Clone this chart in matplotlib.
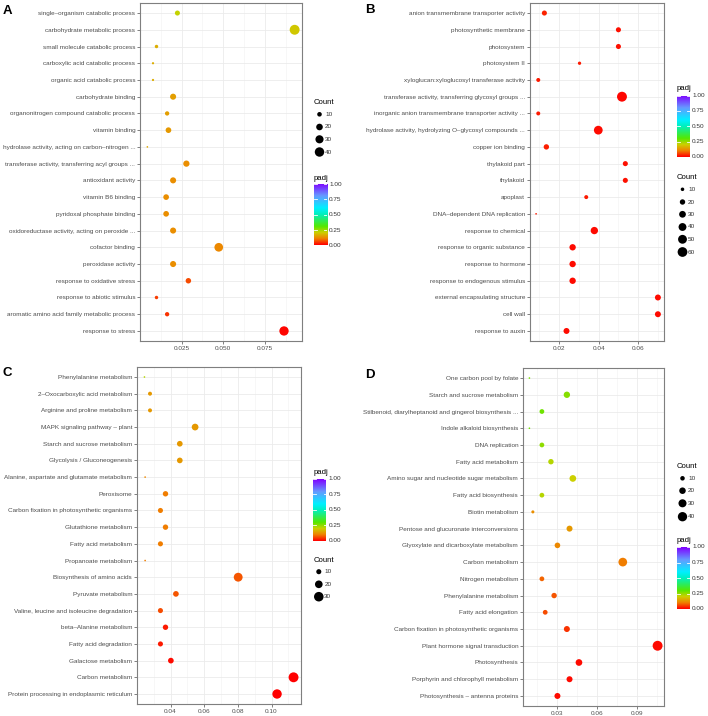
import numpy as np
import matplotlib
matplotlib.use('Agg')
import matplotlib.pyplot as plt
from matplotlib.colors import LinearSegmentedColormap
from matplotlib.ticker import FixedLocator, MultipleLocator

plt.rcParams['font.family'] = ['Liberation Sans', 'DejaVu Sans']

# figure size in pixels (dpi 100)
W, H = 708, 716

# ---- panel A (GO) ----
a_terms = [
    "single–organism catabolic process",
    "carbohydrate metabolic process",
    "small molecule catabolic process",
    "carboxylic acid catabolic process",
    "organic acid catabolic process",
    "carbohydrate binding",
    "organonitrogen compound catabolic process",
    "vitamin binding",
    "hydrolase activity, acting on carbon–nitrogen ...",
    "transferase activity, transferring acyl groups ...",
    "antioxidant activity",
    "vitamin B6 binding",
    "pyridoxal phosphate binding",
    "oxidoreductase activity, acting on peroxide ...",
    "cofactor binding",
    "peroxidase activity",
    "response to oxidative stress",
    "response to abiotic stimulus",
    "aromatic amino acid family metabolic process",
    "response to stress",
]
a_ratio = [0.0224, 0.093, 0.0098, 0.0077, 0.0077, 0.0198, 0.0162, 0.017, 0.0043, 0.0278,
           0.0198, 0.0156, 0.0156, 0.0198, 0.0473, 0.0198, 0.029, 0.0098, 0.0162, 0.0866]
a_count = [12, 44, 6, 3, 3, 17, 9, 15, 2, 18, 17, 15, 15, 17, 34, 17, 14, 6, 9, 39]
a_padj = [0.21, 0.19, 0.16, 0.16, 0.16, 0.14, 0.14, 0.13, 0.15, 0.12,
          0.12, 0.12, 0.12, 0.12, 0.11, 0.12, 0.06, 0.05, 0.04, 0.005]

# ---- panel B (GO) ----
b_terms = [
    "anion transmembrane transporter activity",
    "photosynthetic membrane",
    "photosystem",
    "photosystem II",
    "xyloglucan:xyloglucosyl transferase activity",
    "transferase activity, transferring glycosyl groups ...",
    "inorganic anion transmembrane transporter activity ...",
    "hydrolase activity, hydrolyzing O–glycosyl compounds ...",
    "copper ion binding",
    "thylakoid part",
    "thylakoid",
    "apoplast",
    "DNA–dependent DNA replication",
    "response to chemical",
    "response to organic substance",
    "response to hormone",
    "response to endogenous stimulus",
    "external encapsulating structure",
    "cell wall",
    "response to auxin",
]
b_ratio = [0.0125, 0.050, 0.050, 0.0303, 0.0094, 0.0518, 0.0094, 0.0398, 0.0135, 0.0535,
           0.0535, 0.0337, 0.0083, 0.0378, 0.0268, 0.0268, 0.0268, 0.070, 0.070, 0.0237]
b_count = [18, 18, 18, 9, 12, 62, 12, 49, 20, 18, 18, 12, 4, 35, 27, 27, 27, 24, 24, 24]
b_padj = [0.03, 0.015, 0.015, 0.02, 0.02, 0.005, 0.02, 0.01, 0.025, 0.015,
          0.015, 0.02, 0.02, 0.01, 0.01, 0.01, 0.01, 0.01, 0.01, 0.01]

# ---- panel C (KEGG) ----
c_terms = [
    "Phenylalanine metabolism",
    "2–Oxocarboxylic acid metabolism",
    "Arginine and proline metabolism",
    "MAPK signaling pathway – plant",
    "Starch and sucrose metabolism",
    "Glycolysis / Gluconeogenesis",
    "Alanine, aspartate and glutamate metabolism",
    "Peroxisome",
    "Carbon fixation in photosynthetic organisms",
    "Glutathione metabolism",
    "Fatty acid metabolism",
    "Propanoate metabolism",
    "Biosynthesis of amino acids",
    "Pyruvate metabolism",
    "Valine, leucine and isoleucine degradation",
    "beta–Alanine metabolism",
    "Fatty acid degradation",
    "Galactose metabolism",
    "Carbon metabolism",
    "Protein processing in endoplasmic reticulum",
]
c_ratio = [0.0245, 0.0278, 0.0278, 0.0546, 0.0455, 0.0455, 0.0249, 0.037, 0.034, 0.037,
           0.034, 0.0249, 0.0802, 0.0432, 0.034, 0.037, 0.034, 0.0402, 0.1131, 0.1033]
c_count = [3, 7, 7, 16, 12, 12, 3, 11, 10, 11, 10, 3, 26, 12, 10, 11, 10, 12, 32, 29]
c_padj = [0.22, 0.13, 0.13, 0.13, 0.13, 0.13, 0.11, 0.10, 0.10, 0.10,
          0.10, 0.10, 0.07, 0.07, 0.06, 0.02, 0.02, 0.01, 0.0, 0.0]

# ---- panel D (KEGG) ----
d_terms = [
    "One carbon pool by folate",
    "Starch and sucrose metabolism",
    "Stilbenoid, diarylheptanoid and gingerol biosynthesis ...",
    "Indole alkaloid biosynthesis",
    "DNA replication",
    "Fatty acid metabolism",
    "Amino sugar and nucleotide sugar metabolism",
    "Fatty acid biosynthesis",
    "Biotin metabolism",
    "Pentose and glucuronate interconversions",
    "Glyoxylate and dicarboxylate metabolism",
    "Carbon metabolism",
    "Nitrogen metabolism",
    "Phenylalanine metabolism",
    "Fatty acid elongation",
    "Carbon fixation in photosynthetic organisms",
    "Plant hormone signal transduction",
    "Photosynthesis",
    "Porphyrin and chlorophyll metabolism",
    "Photosynthesis – antenna proteins",
]
d_ratio = [0.0091, 0.0373, 0.0185, 0.0091, 0.0185, 0.0253, 0.0418, 0.0185, 0.0117, 0.0393,
           0.0302, 0.0794, 0.0185, 0.0277, 0.021, 0.0373, 0.1056, 0.0464, 0.0393, 0.0302]
d_count = [2, 19, 11, 2, 11, 14, 21, 11, 5, 17, 15, 35, 11, 14, 11, 17, 45, 21, 17, 17]
d_padj = [0.27, 0.26, 0.28, 0.28, 0.25, 0.22, 0.20, 0.22, 0.12, 0.13,
          0.11, 0.10, 0.08, 0.07, 0.06, 0.04, 0.01, 0.01, 0.01, 0.01]

# colour scale for padj
cmap = LinearSegmentedColormap.from_list('padj', [
    (0.0, '#FF0000'), (0.1, '#F08000'), (0.2, '#CCD000'), (0.3, '#55E800'),
    (0.5, '#00F0C0'), (0.6, '#00F0FF'), (0.8, '#6699FF'), (1.0, '#8000FF')])

fig = plt.figure(figsize=(W / 100, H / 100), dpi=100)

# overlay axes in pixel coords, used for legends and panel letters
ov = fig.add_axes([0, 0, 1, 1], zorder=5)
ov.set_xlim(0, W)
ov.set_ylim(H, 0)
ov.axis('off')
ov.patch.set_alpha(0)


def px_rect(x0, y0, x1, y1):
    return [x0 / W, 1 - y1 / H, (x1 - x0) / W, (y1 - y0) / H]


def dot_size(c, cmin, cmax):
    # ggplot-like area scaling, diameter in px -> points^2
    c = np.asarray(c, dtype=float)
    d_px = 1.65 * np.sqrt(1 + 35 * (c - cmin) / (cmax - cmin))
    return (d_px * 0.72) ** 2


def draw_panel(rect, terms, ratio, count, padj, xticks, fmt):
    ax = fig.add_axes(px_rect(*rect))
    n = len(terms)
    y = np.arange(n)[::-1]
    cmin, cmax = min(count), max(count)
    ax.scatter(ratio, y, s=dot_size(count, cmin, cmax), c=padj, cmap=cmap,
               vmin=0, vmax=1, edgecolors='none', zorder=3)
    lo, hi = min(ratio), max(ratio)
    pad = 0.05 * (hi - lo)
    ax.set_xlim(lo - pad, hi + pad)
    ax.set_ylim(-0.6, n - 0.4)
    ax.set_yticks(y)
    ax.set_yticklabels(terms)
    ax.xaxis.set_major_locator(FixedLocator(xticks))
    ax.xaxis.set_minor_locator(MultipleLocator((xticks[1] - xticks[0]) / 2))
    ax.set_xticklabels([fmt % t for t in xticks])
    ax.tick_params(axis='both', labelsize=4.6, colors='#4D4D4D', length=2,
                   width=0.5, pad=1.5)
    ax.tick_params(axis='x', which='minor', length=0)
    ax.grid(True, which='major', color='#EBEBEB', lw=0.6, zorder=0)
    ax.grid(True, which='minor', axis='x', color='#F2F2F2', lw=0.4, zorder=0)
    ax.set_axisbelow(True)
    for sp in ax.spines.values():
        sp.set_color('#7F7F7F')
        sp.set_linewidth(0.8)
    return cmin, cmax


def count_legend(x, y_title, ys, breaks, cmin, cmax):
    ov.text(x, y_title, "Count", fontsize=5.6, va='center', ha='left', color='black')
    ov.scatter([x + 5.5] * len(breaks), ys, s=dot_size(breaks, cmin, cmax),
               color='black', edgecolors='none')
    for yy, b in zip(ys, breaks):
        ov.text(x + 11, yy, str(b), fontsize=4.6, va='center', ha='left', color='#333333')


def padj_legend(x, y_title, y0, y1):
    ov.text(x, y_title, "padj", fontsize=5.6, va='center', ha='left', color='black')
    cax = fig.add_axes(px_rect(x, y0, x + 13, y1), zorder=6)
    grad = np.linspace(0, 1, 200).reshape(-1, 1)
    cax.imshow(grad, aspect='auto', cmap=cmap, origin='lower', extent=[0, 1, 0, 1])
    for v in [0, 0.25, 0.5, 0.75, 1.0]:
        cax.plot([0, 0.2], [v, v], color='white', lw=0.6)
        cax.plot([0.8, 1], [v, v], color='white', lw=0.6)
        yy = y1 - v * (y1 - y0)
        ov.text(x + 15, yy, "%.2f" % v, fontsize=4.6, va='center', ha='left', color='#333333')
    cax.set_xlim(0, 1)
    cax.set_ylim(0, 1)
    cax.axis('off')


# panel A
cmn, cmx = draw_panel((140, 3, 302, 341), a_terms, a_ratio, a_count, a_padj,
                      [0.025, 0.050, 0.075], "%.3f")
count_legend(314, 102.7, [114.3, 127, 139.3, 152], [10, 20, 30, 40], cmn, cmx)
padj_legend(314, 178.3, 184, 245.5)

# panel B
cmn, cmx = draw_panel((530, 3, 664, 341), b_terms, b_ratio, b_count, b_padj,
                      [0.02, 0.04, 0.06], "%.2f")
padj_legend(677, 88.3, 95.5, 157)
count_legend(677, 177.3, [189.3, 202, 214.3, 227, 239.3, 252], [10, 20, 30, 40, 50, 60], cmn, cmx)

# panel C
cmn, cmx = draw_panel((137, 367, 301, 704), c_terms, c_ratio, c_count, c_padj,
                      [0.04, 0.06, 0.08, 0.10], "%.2f")
padj_legend(313.3, 472.7, 479, 540.5)
count_legend(313.3, 560, [571.7, 584.3, 596.7], [10, 20, 30], cmn, cmx)

# panel D
cmn, cmx = draw_panel((523, 368, 664, 706), d_terms, d_ratio, d_count, d_padj,
                      [0.03, 0.06, 0.09], "%.2f")
count_legend(677, 466.7, [478.3, 490.7, 503.3, 516.7], [10, 20, 30, 40], cmn, cmx)
padj_legend(677, 540.7, 547, 609)

# panel letters
for lab, lx, ly in [("A", 2.5, 11.5), ("B", 365, 10), ("C", 2.5, 373), ("D", 365, 375)]:
    ov.text(lx, ly, lab, fontsize=9.5, fontweight='bold', va='center', ha='left',
            family=['Liberation Sans', 'DejaVu Sans'])

fig.savefig("out.png", dpi=100)
